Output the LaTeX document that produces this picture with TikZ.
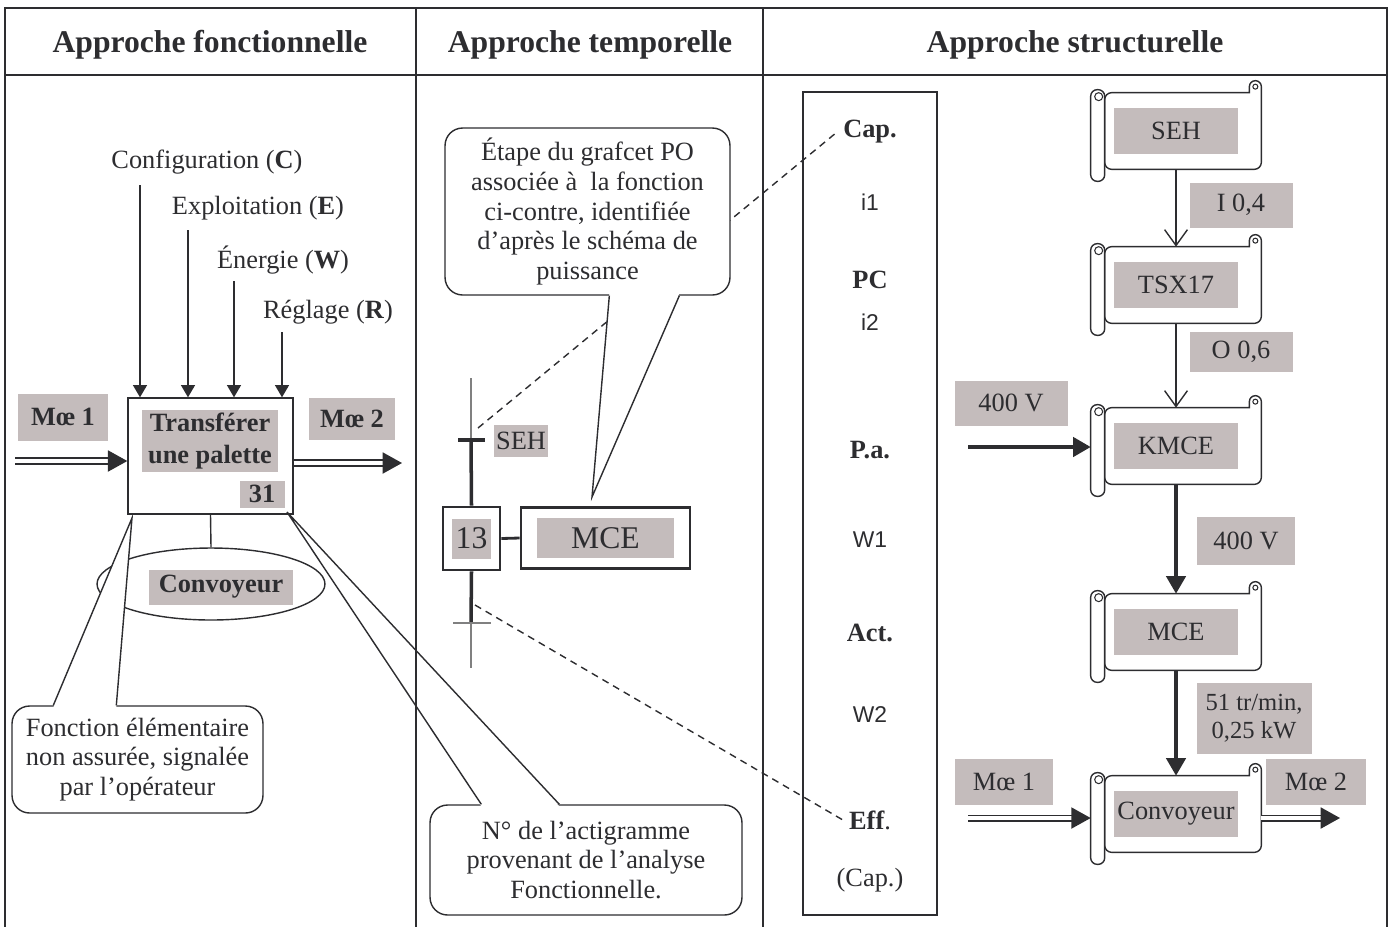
\documentclass[tikz,border=0pt]{standalone}
\usepackage{fontspec}
\setmainfont{Liberation Serif}
\newfontfamily\arialfont{Liberation Sans}
\usetikzlibrary{arrows.meta, positioning, shapes.geometric, calc}

\definecolor{ink}{RGB}{45,45,48}
\definecolor{patgray}{RGB}{196,188,188}

% parchment scroll drawn around an empty node
\newcommand{\scrollshape}[1]{%
  \draw[ink, line width=0.8pt, fill=white]
    ($(#1.north west)+(14,0)$) -- ($(#1.north east)+(-12,0)$) -- ($(#1.north east)+(-12,-6)$)
    arc[start angle=180, end angle=0, radius=0.12cm]
    [rounded corners=4pt] -- (#1.south east) -- ($(#1.south west)+(14,0)$) -- cycle;
  \draw[ink, line width=0.6pt] ($(#1.north east)+(-6,-6)$) circle[radius=0.05cm];
  \draw[ink, line width=0.8pt, fill=white, rounded corners=0.13cm]
    ($(#1.north west)+(0,-3)$) rectangle ($(#1.south west)+(14,12)$);
  \draw[ink, line width=0.6pt] ($(#1.north west)+(8,4)$) circle[radius=0.08cm];
}
\newcommand{\sansitem}[1]{{\arialfont\fontsize{13}{15}\selectfont #1}}

\begin{document}
\begin{tikzpicture}[
    x=0.02cm, y=-0.02cm,
    font=\fontsize{15}{17}\selectfont, text=ink,
    strong/.style={font=\bfseries\fontsize{15}{18}\selectfont},
    head/.style={font=\bfseries\fontsize{18}{20}\selectfont},
    tag/.style={fill=patgray, inner sep=1pt},
    plate/.style={fill=patgray, minimum width=2.48cm, minimum height=0.92cm, inner sep=1pt},
    fbox/.style={draw=ink, line width=0.8pt, minimum width=3.3cm, minimum height=2.32cm, inner sep=0pt},
    bubble/.style={draw=ink, line width=0.8pt, fill=white, rounded corners=10pt, align=center, inner sep=0pt},
    tail/.style={draw=ink, line width=0.8pt},
    scroll/.style={minimum width=3.4cm, minimum height=1.52cm, inner sep=0pt},
    flow/.style={draw=ink, line width=0.8pt, -{Triangle[length=7pt,width=8pt]}},
    signal/.style={draw=ink, line width=0.8pt, -{Straight Barb[length=9pt,width=13pt]}},
    power/.style={draw=ink, line width=2pt, -{Triangle[length=10pt,width=11pt]}},
    matter/.style={draw=ink, double, double distance=2.2pt, line width=0.9pt, -{Triangle[length=11pt,width=12pt]}},
    bar/.style={draw=ink, line width=2pt},
    wire/.style={draw=gray, line width=0.6pt},
    lead/.style={draw=ink, line width=0.8pt, dash pattern=on 4pt off 3pt}
]
    \useasboundingbox (0,0) rectangle (1391,927);

    % headings
    \node[head] (hfun) at (210,45) {Approche fonctionnelle};
    \node[head] (htmp) at (590,45) {Approche temporelle};
    \node[head] (hstr) at (1075,45) {Approche structurelle};

    % temporal chain column
    \node[draw=ink, line width=1pt, minimum width=2.68cm, minimum height=16.46cm, inner sep=0pt] (chain) at (870,503.5) {};
    \foreach \txt/\yy [count=\i] in {\textbf{Cap.}/132, \sansitem{i1}/202, \textbf{PC}/280, \sansitem{i2}/322,
        \textbf{P.a.}/450, \sansitem{W1}/540, \textbf{Act.}/633, \sansitem{W2}/715, \textbf{Eff}./820, (Cap.)/880}
        \node (item\i) at (870,\yy) {\txt};

    % grafcet
    \coordinate (gtop) at (471,378);
    \coordinate (t1) at (471,440);
    \coordinate (t2) at (471,623);
    \coordinate (gbot) at (471,668);
    \node[draw=ink, line width=1.6pt, minimum width=1.14cm, minimum height=1.26cm, inner sep=0pt] (s13) at (471.5,538.5) {};
    \node[fill=patgray, minimum width=0.78cm, minimum height=0.8cm, inner sep=0pt, font=\fontsize{18}{20}\selectfont] (s13lbl) at (s13) {13};
    \node[draw=ink, line width=1.6pt, minimum width=3.38cm, minimum height=1.22cm, inner sep=0pt] (act) at (605.5,538) {};
    \node[fill=patgray, minimum width=2.76cm, minimum height=0.8cm, inner sep=0pt, font=\fontsize{18}{20}\selectfont] (actlbl) at (act) {MCE};
    \draw[wire] (gtop) -- (t1);
    \draw[bar] (t1) -- (s13.north);
    \draw[bar] ($(t1)+(-13,0)$) -- ($(t1)+(14,0)$);
    \node[tag, minimum height=0.64cm] (seht) at (521,441) {SEH};
    \draw[bar] (s13.south) -- (t2);
    \draw[wire] ($(t2)+(-18,0)$) -- ($(t2)+(20,0)$);
    \draw[wire] (t2) -- (gbot);
    \draw[line width=1.6pt, ink] (s13.east) -- (act.west);

    % dashed leads to the chain
    \coordinate (up) at (478,428);
    \coordinate (down) at (475,605);
    \draw[lead] (up) -- (item1.west);
    \draw[lead] (down) -- (item9.west);

    % Convoyeur support
    \node[ellipse, draw=ink, line width=0.8pt, minimum width=4.56cm, minimum height=1.44cm, inner sep=0pt] (belt) at (211,584) {};
    \node[tag, strong, minimum width=2.9cm, minimum height=0.7cm] (beltlbl) at (221,587) {Convoyeur};

    % callouts
    \node[bubble, minimum width=5.02cm, minimum height=2.14cm] (note1) at (137.5,759.5)
        {Fonction élémentaire\\non assurée, signalée\\par l'opérateur};
    \coordinate (tip1) at (132,518);
    \fill[white] ($(note1.north west)+(42,2)$) -- (tip1) -- ($(note1.north west)+(105,2)$) -- cycle;
    \draw[tail] ($(note1.north west)+(42,0)$) -- (tip1) -- ($(note1.north west)+(105,0)$);

    \node[bubble, minimum width=6.24cm, minimum height=2.2cm] (note2) at (586,860)
        {N° de l'actigramme\\provenant de l'analyse\\Fonctionnelle.};
    \coordinate (tip2) at (287,512);
    \fill[white] ($(note2.north west)+(52,2)$) -- (tip2) -- ($(note2.north west)+(130,2)$) -- cycle;
    \draw[tail] ($(note2.north west)+(52,0)$) -- (tip2) -- ($(note2.north west)+(130,0)$);

    \node[bubble, minimum width=5.7cm, minimum height=3.34cm] (note3) at (587.5,211.5)
        {Étape du grafcet PO\\associée à~ la fonction\\ci-contre, identifiée\\d'après le schéma de\\puissance};
    \coordinate (tip3) at (592,497);
    \fill[white] ($(note3.south west)+(165,-2)$) -- (tip3) -- ($(note3.south west)+(235,-2)$) -- cycle;
    \draw[tail] ($(note3.south west)+(165,0)$) -- (tip3) -- ($(note3.south west)+(235,0)$);

    % actigram
    \node[fbox] (fn) at (210.5,456) {};
    \node[tag, strong, align=center, minimum width=2.72cm, minimum height=1.24cm] (fnlbl) at (210,441) {Transférer\\une palette};
    \node[tag, strong, minimum width=0.9cm, minimum height=0.54cm] (num) at (262,494) {31};
    \draw[tail] (fn.south) -- (belt.north);

    \node (cfg) at (207,162) {Configuration (\textbf{C})};
    \node (exp) at (258,208) {Exploitation (\textbf{E})};
    \node (nrg) at (283,260) {Énergie (\textbf{W})};
    \node (reg) at (328,312) {Réglage (\textbf{R})};
    \coordinate (cfgin) at (140,185);
    \coordinate (expin) at (188,230);
    \coordinate (nrgin) at (234,281);
    \coordinate (regin) at (282,332);
    \draw[flow] (cfgin) -- (cfgin |- fn.north);
    \draw[flow] (expin) -- (expin |- fn.north);
    \draw[flow] (nrgin) -- (nrgin |- fn.north);
    \draw[flow] (regin) -- (regin |- fn.north);

    \node[tag, strong, minimum width=1.8cm, minimum height=0.94cm] (m1) at (63,417) {Mœ 1};
    \coordinate (m1in) at (15,461);
    \draw[matter] (m1in) -- (m1in -| fn.west);
    \node[tag, strong, minimum width=1.74cm, minimum height=0.84cm] (m2) at (352,419) {Mœ 2};
    \coordinate (m2out) at (402,463);
    \draw[matter] (m2out -| fn.east) -- (m2out);

    % structural chain
    \node[scroll] (seh) at (1176,131) {};
    \scrollshape{seh}
    \node[plate] (sehlbl) at (seh) {SEH};
    \node[scroll] (tsx) at (1176,285) {};
    \scrollshape{tsx}
    \node[plate] (tsxlbl) at (tsx) {TSX17};
    \node[scroll] (kmce) at (1176,446) {};
    \scrollshape{kmce}
    \node[plate] (kmcelbl) at (kmce) {KMCE};
    \node[scroll] (mce) at (1176,632) {};
    \scrollshape{mce}
    \node[plate] (mcelbl) at (mce) {MCE};
    \node[scroll] (conv) at (1176,814) {};
    \scrollshape{conv}
    \node[plate] (convlbl) at (conv) {Convoyeur};

    \draw[signal] (seh) -- (tsx);
    \node[plate, minimum width=2.06cm, minimum height=0.9cm] (io4) at (1241,205) {I 0,4};
    \draw[signal] (tsx) -- (kmce);
    \node[plate, minimum width=2.06cm, minimum height=0.8cm] (oo6) at (1241,352) {O 0,6};
    \coordinate (mains) at (968,447);
    \draw[power] (mains) -- (mains -| kmce.west);
    \node[plate, minimum width=2.26cm, minimum height=0.9cm] (v400a) at (1011,403) {400 V};
    \draw[power] (kmce) -- (mce);
    \node[plate, minimum width=1.96cm, minimum height=0.96cm] (v400b) at (1246,541) {400 V};
    \draw[power] (mce) -- (conv);
    \node[plate, align=center, font=\fontsize{14}{16}\selectfont, minimum width=2.3cm, minimum height=1.42cm] (spd) at (1254,718) {51 tr/min,\\0,25 kW};
    \node[plate, minimum width=1.96cm, minimum height=0.92cm] (m1r) at (1004,782) {Mœ 1};
    \coordinate (m1rin) at (968,818);
    \draw[matter] (m1rin) -- (m1rin -| conv.west);
    \node[plate, minimum width=2cm, minimum height=0.92cm] (m2r) at (1316,782) {Mœ 2};
    \coordinate (m2rout) at (1340,818);
    \draw[matter] (m2rout -| conv.east) -- (m2rout);

    % table rules
    \draw[ink, line width=1.6pt] (4,8) -- (1388,8);
    \draw[ink, line width=1.6pt] (4,75) -- (1388,75);
    \foreach \xx in {5,416,763,1387}
        \draw[ink, line width=1pt] (\xx,8) -- (\xx,927);
\end{tikzpicture}
\end{document}
